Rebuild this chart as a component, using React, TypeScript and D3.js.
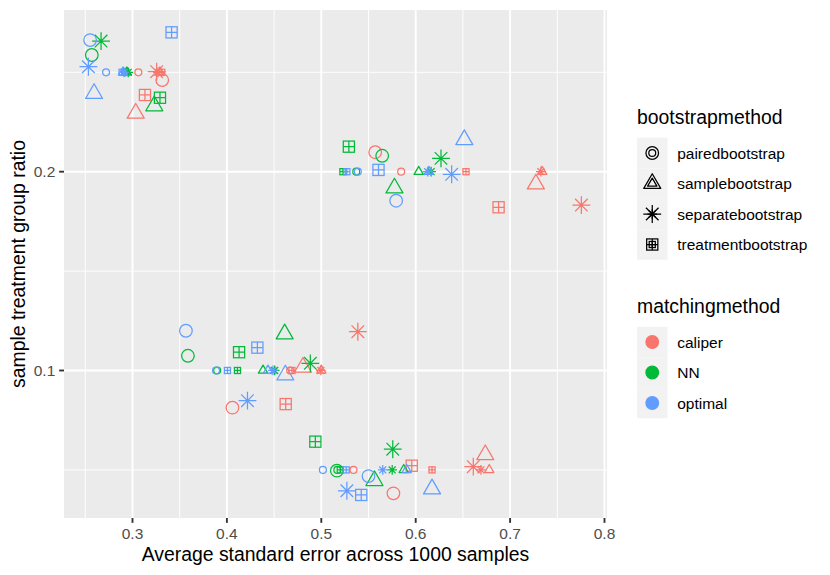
import React from 'react';
import * as d3 from 'd3';

// factor levels
const ratioLevels = [0.25, 0.2, 0.1, 0.05];
const matchingMethods = ['caliper', 'NN', 'optimal'];
const bootstrapMethods = ['pairedbootstrap', 'samplebootstrap', 'separatebootstrap', 'treatmentbootstrap'];
const matchingColors = ['#F8766D', '#00BA38', '#619CFF'];

// order: ratio -> matching -> bootstrap (paired, sample, separate, treatment)
const avgSE = [
  // 0.25
  0.3062, 0.329, 0.327, 0.331,
  0.292, 0.294, 0.2955, 0.293,
  0.272, 0.290, 0.291, 0.289,
  // 0.2
  0.5846, 0.734, 0.7326, 0.6533,
  0.537, 0.6032, 0.6163, 0.5229,
  0.5387, 0.614, 0.6127, 0.5271,
  // 0.1
  0.467, 0.5, 0.4995, 0.4689,
  0.3897, 0.4383, 0.4506, 0.4112,
  0.3885, 0.4435, 0.4488, 0.4006,
  // 0.05
  0.5341, 0.6779, 0.6691, 0.6173,
  0.517, 0.5873, 0.5751, 0.5201,
  0.5017, 0.5905, 0.5651, 0.5264,
];

// jittered copies (large symbols)
const avgSEJitter = [
  0.3315, 0.3034, 0.3256, 0.3132,
  0.2569, 0.3231, 0.2667, 0.3291,
  0.2551, 0.2593, 0.2533, 0.3414,

  0.5571, 0.7273, 0.7755, 0.6878,
  0.5645, 0.5775, 0.6268, 0.5292,
  0.5793, 0.6515, 0.6381, 0.5606,

  0.4059, 0.4806, 0.5387, 0.4623,
  0.3587, 0.4612, 0.4884, 0.4129,
  0.3566, 0.4619, 0.4218, 0.4323,

  0.5764, 0.6737, 0.661, 0.5958,
  0.5165, 0.5563, 0.5757, 0.4937,
  0.55, 0.6173, 0.5271, 0.5423,
];

const ratioJitter = [
  0.2461, 0.2294, 0.2503, 0.2386,
  0.2587, 0.2331, 0.2657, 0.2372,
  0.2662, 0.2393, 0.2528, 0.2701,

  0.2098, 0.1938, 0.1832, 0.1821,
  0.2080, 0.1918, 0.2067, 0.2126,
  0.1854, 0.2161, 0.1987, 0.2009,

  0.0813, 0.1016, 0.1195, 0.0831,
  0.1074, 0.1184, 0.1036, 0.1092,
  0.1200, 0.0977, 0.0848, 0.1115,

  0.0382, 0.0576, 0.0516, 0.0521,
  0.0496, 0.0446, 0.0604, 0.0642,
  0.0469, 0.0404, 0.0395, 0.0374,
];

const xBreaks = [0.3, 0.4, 0.5, 0.6, 0.7, 0.8];
const xMinor = [0.25, 0.35, 0.45, 0.55, 0.65, 0.75];
const yBreaks = [0.1, 0.2];
const yMinor = [0.05, 0.15, 0.25];

const W = 830;
const H = 575;
const panel = { left: 64, right: 607, top: 10, bottom: 518 };
const FONT = '"Liberation Sans", Arial, Helvetica, sans-serif';

const RL = 6.3; // big point radius
const RS = 3.45; // small point radius
const SW = 1.25;

const TRC0 = 1.55512030155621416073;
const TRC1 = 1.3467736870885983606;
const TRC2 = 0.77756015077810708036;
const SQRC = 0.88622692545275801364;

function Glyph({ shape, x, y, r, color }: { shape: string; x: number; y: number; r: number; color: string }) {
  if (shape === 'pairedbootstrap') {
    return <circle cx={x} cy={y} r={r} fill="none" stroke={color} strokeWidth={SW} />;
  }
  if (shape === 'samplebootstrap') {
    const pts = `${x},${y - TRC0 * r} ${x + TRC1 * r},${y + TRC2 * r} ${x - TRC1 * r},${y + TRC2 * r}`;
    return <polygon points={pts} fill="none" stroke={color} strokeWidth={SW} strokeLinejoin="round" />;
  }
  if (shape === 'separatebootstrap') {
    const a = Math.SQRT2 * r;
    const d = `M${x - a},${y}H${x + a}M${x},${y - a}V${y + a}M${x - r},${y - r}L${x + r},${y + r}M${x - r},${y + r}L${x + r},${y - r}`;
    return <path d={d} fill="none" stroke={color} strokeWidth={SW} />;
  }
  const s = SQRC * r;
  const d = `M${x - s},${y}H${x + s}M${x},${y - s}V${y + s}`;
  return (
    <g>
      <rect x={x - s} y={y - s} width={2 * s} height={2 * s} fill="none" stroke={color} strokeWidth={SW} />
      <path d={d} fill="none" stroke={color} strokeWidth={SW} />
    </g>
  );
}

export default function App() {
  const x = d3.scaleLinear().domain([0.22744, 0.80265]).range([panel.left, panel.right]);
  const y = d3.scaleLinear().domain([0.0258, 0.28134]).range([panel.bottom, panel.top]);

  const points = ratioLevels.flatMap((ratio, ri) =>
    matchingMethods.flatMap((m, mi) =>
      bootstrapMethods.map((b, bi) => {
        const i = ri * 12 + mi * 4 + bi;
        return {
          ratio, matching: m, bootstrap: b, color: matchingColors[mi],
          se: avgSE[i], seJ: avgSEJitter[i], ratioJ: ratioJitter[i],
        };
      })
    )
  );

  const fmt = d3.format('.1f');
  const legX = 637;
  const keyW = 30.5;
  const shapeTop = 137.75;
  const colorTop = 326.75;

  return (
    <svg width={W} height={H} style={{ position: 'absolute', left: 0, top: 0 }} fontFamily={FONT}>
      <rect width={W} height={H} fill="#FFFFFF" />
      <rect x={panel.left} y={panel.top} width={panel.right - panel.left} height={panel.bottom - panel.top} fill="#EBEBEB" />
      {xMinor.map((v) => (
        <line key={'xm' + v} x1={x(v)} x2={x(v)} y1={panel.top} y2={panel.bottom} stroke="#FFFFFF" strokeWidth={0.94} />
      ))}
      {yMinor.map((v) => (
        <line key={'ym' + v} x1={panel.left} x2={panel.right} y1={y(v)} y2={y(v)} stroke="#FFFFFF" strokeWidth={0.94} />
      ))}
      {xBreaks.map((v) => (
        <line key={'xM' + v} x1={x(v)} x2={x(v)} y1={panel.top} y2={panel.bottom} stroke="#FFFFFF" strokeWidth={1.88} />
      ))}
      {yBreaks.map((v) => (
        <line key={'yM' + v} x1={panel.left} x2={panel.right} y1={y(v)} y2={y(v)} stroke="#FFFFFF" strokeWidth={1.88} />
      ))}

      {/* jittered large symbols */}
      {points.map((p, i) => (
        <Glyph key={'L' + i} shape={p.bootstrap} x={x(p.seJ)} y={y(p.ratioJ)} r={RL} color={p.color} />
      ))}
      {/* exact small symbols */}
      {points.map((p, i) => (
        <Glyph key={'S' + i} shape={p.bootstrap} x={x(p.se)} y={y(p.ratio)} r={RS} color={p.color} />
      ))}

      {/* axes */}
      {xBreaks.map((v) => (
        <g key={'xt' + v}>
          <line x1={x(v)} x2={x(v)} y1={panel.bottom} y2={panel.bottom + 4.85} stroke="#333333" strokeWidth={1.88} />
          <text x={x(v)} y={539} textAnchor="middle" fontSize={15.5} fill="#4D4D4D">{fmt(v)}</text>
        </g>
      ))}
      {yBreaks.map((v) => (
        <g key={'yt' + v}>
          <line x1={panel.left - 4.85} x2={panel.left} y1={y(v)} y2={y(v)} stroke="#333333" strokeWidth={1.88} />
          <text x={55.3} y={y(v) + 5.5} textAnchor="end" fontSize={15.5} fill="#4D4D4D">{fmt(v)}</text>
        </g>
      ))}
      <text x={(panel.left + panel.right) / 2} y={560.5} textAnchor="middle" fontSize={19.4} fill="#000000">
        Average standard error across 1000 samples
      </text>
      <text transform={`translate(25,${(panel.top + panel.bottom) / 2}) rotate(-90)`} textAnchor="middle" fontSize={19.4} fill="#000000">
        sample treatment group ratio
      </text>

      {/* shape legend */}
      <text x={legX} y={124} fontSize={19.4} fill="#000000">bootstrapmethod</text>
      {bootstrapMethods.map((b, i) => {
        const cy = shapeTop + keyW * i + keyW / 2;
        return (
          <g key={'lb' + b}>
            <rect x={legX} y={shapeTop + keyW * i} width={keyW} height={keyW} fill="#F2F2F2" />
            <Glyph shape={b} x={legX + keyW / 2} y={cy} r={RS} color="#000000" />
            <Glyph shape={b} x={legX + keyW / 2} y={cy} r={RL} color="#000000" />
            <text x={legX + keyW + 9.7} y={cy + 5.5} fontSize={15.5} fill="#000000">{b}</text>
          </g>
        );
      })}

      {/* colour legend */}
      <text x={legX} y={313} fontSize={19.4} fill="#000000">matchingmethod</text>
      {matchingMethods.map((m, i) => {
        const cy = colorTop + keyW * i + keyW / 2;
        return (
          <g key={'lm' + m}>
            <rect x={legX} y={colorTop + keyW * i} width={keyW} height={keyW} fill="#F2F2F2" />
            <circle cx={legX + keyW / 2} cy={cy} r={RL} fill={matchingColors[i]} stroke={matchingColors[i]} strokeWidth={SW} />
            <text x={legX + keyW + 9.7} y={cy + 5.5} fontSize={15.5} fill="#000000">{m}</text>
          </g>
        );
      })}
    </svg>
  );
}
